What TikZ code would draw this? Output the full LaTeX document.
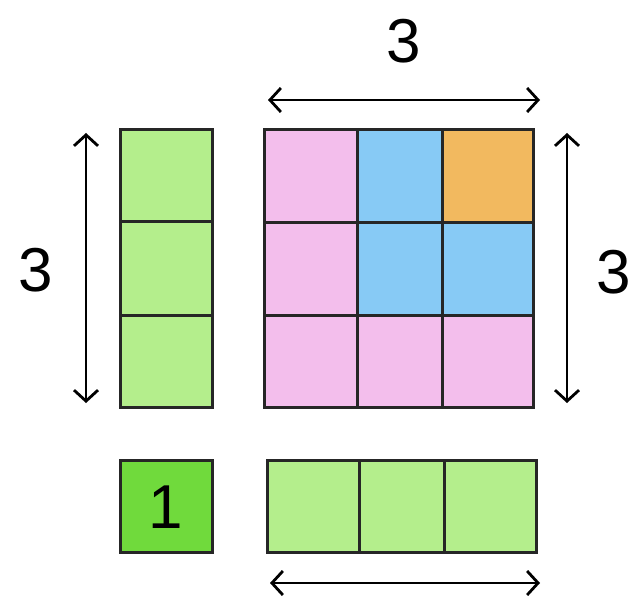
\documentclass[tikz,border=0pt]{standalone}
\usepackage{fontspec}
\setmainfont{Liberation Sans}
\usetikzlibrary{arrows.meta}
\definecolor{pinkc}{RGB}{243,190,236}
\definecolor{bluec}{RGB}{135,202,245}
\definecolor{orangec}{RGB}{242,185,95}
\definecolor{lgreen}{RGB}{180,238,140}
\definecolor{dgreen}{RGB}{112,218,60}
\begin{document}
\begin{tikzpicture}[x=1pt,y=-1pt,
  cell/.style={draw=black!85,line width=3pt,inner sep=0pt,outer sep=0pt},
  dim/.style={line width=2.8pt,{Straight Barb[length=11pt,width=24pt,line width=2.8pt]}-{Straight Barb[length=11pt,width=24pt,line width=2.8pt]}},
  lab/.style={font=\fontsize{62}{62}\selectfont,inner sep=0pt}]
\useasboundingbox (0,0) rectangle (640,596);
% left column
\foreach \i/\ya/\yb in {1/130/222,2/222/315,3/315/407}{
  \path[cell,fill=lgreen] (120,\ya) rectangle (212,\yb);
}
% matrix
\path[cell,fill=pinkc] (264,130) rectangle (357,223);
\path[cell,fill=bluec] (357,130) rectangle (442,223);
\path[cell,fill=orangec] (442,130) rectangle (533,223);
\path[cell,fill=pinkc] (264,223) rectangle (357,315);
\path[cell,fill=bluec] (357,223) rectangle (442,315);
\path[cell,fill=bluec] (442,223) rectangle (533,315);
\path[cell,fill=pinkc] (264,315) rectangle (357,407);
\path[cell,fill=pinkc] (357,315) rectangle (442,407);
\path[cell,fill=pinkc] (442,315) rectangle (533,407);
% bottom row
\path[cell,fill=lgreen] (267,460) rectangle (359,552);
\path[cell,fill=lgreen] (359,460) rectangle (444,552);
\path[cell,fill=lgreen] (444,460) rectangle (536,552);
% single cell
\path[cell,fill=dgreen] (120,460) rectangle (212,552);
\node[lab] (one) at (166,507) {1};
% arrows
\coordinate (ta) at (268,100); \coordinate (tb) at (540,100);
\coordinate (la) at (86,133); \coordinate (lb) at (86,403);
\coordinate (ra) at (567,133); \coordinate (rb) at (567,403);
\coordinate (ba) at (270,583); \coordinate (bb) at (540,583);
\draw[dim] (ta) -- (tb);
\draw[dim] (la) -- (lb);
\draw[dim] (ra) -- (rb);
\draw[dim] (ba) -- (bb);
\node[lab] (tl) at (404,41) {3};
\node[lab] (ll) at (36,270) {3};
\node[lab] (rl) at (614,272) {3};
\end{tikzpicture}
\end{document}
